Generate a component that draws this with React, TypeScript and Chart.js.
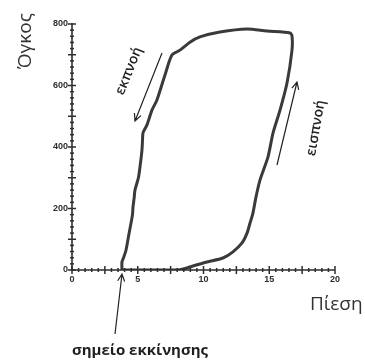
import React, { useEffect, useRef } from "react";
import { Chart, registerables } from "chart.js";

Chart.register(...registerables);

// Pressure–volume loop, in drawing order from the starting point
const pressure = [
  3.8, 8.06, 9.2, 10.27, 11.48, 12.24, 12.93, 13.31, 13.54, 13.76, 13.99, 14.3,
  14.9, 15.29, 15.82, 16.35, 16.73, 16.73, 16.58, 14.83, 13.31, 11.25, 9.73,
  8.97, 8.21, 7.6, 7.07, 6.46, 6.08, 5.7, 5.4, 5.36, 5.32, 5.17, 5.05, 4.79,
  4.72, 4.64, 4.6, 4.49, 4.3, 4.11, 3.92, 3.8, 3.8,
];
const volume = [
  0, 0, 13, 26, 39, 59, 88, 120, 153, 185, 237, 293, 367, 446, 520, 608, 715,
  761, 771, 777, 784, 774, 758, 741, 715, 699, 634, 553, 520, 472, 446, 420,
  390, 335, 300, 260, 232, 205, 180, 153, 110, 65, 40, 26, 0,
];

const xLabels = [0, 5, 10, 15, 20];
const yLabels = [0, 200, 400, 600, 800];

const ink = "#2e2e2e";

function arrow(
  ctx: CanvasRenderingContext2D,
  x1: number,
  y1: number,
  x2: number,
  y2: number
) {
  const a = Math.atan2(y2 - y1, x2 - x1);
  const h = 8;
  ctx.beginPath();
  ctx.moveTo(x1, y1);
  ctx.lineTo(x2, y2);
  ctx.moveTo(x2 - h * Math.cos(a - 0.45), y2 - h * Math.sin(a - 0.45));
  ctx.lineTo(x2, y2);
  ctx.lineTo(x2 - h * Math.cos(a + 0.45), y2 - h * Math.sin(a + 0.45));
  ctx.stroke();
}

function rotatedText(
  ctx: CanvasRenderingContext2D,
  text: string,
  x: number,
  y: number,
  angleDeg: number,
  font: string
) {
  ctx.save();
  ctx.translate(x, y);
  ctx.rotate((angleDeg * Math.PI) / 180);
  ctx.font = font;
  ctx.textAlign = "center";
  ctx.textBaseline = "middle";
  ctx.fillText(text, 0, 0);
  ctx.restore();
}

const axesPlugin = {
  id: "handAxes",
  afterDatasetsDraw(chart: any) {
    const { ctx, scales } = chart;
    const xs = scales.x;
    const ys = scales.y;
    const x0 = xs.getPixelForValue(0);
    const x20 = xs.getPixelForValue(20);
    const y0 = ys.getPixelForValue(0);
    const y800 = ys.getPixelForValue(800);

    ctx.save();
    ctx.strokeStyle = ink;
    ctx.fillStyle = ink;
    ctx.lineWidth = 1.6;

    // axis lines
    ctx.beginPath();
    ctx.moveTo(x0, y800 - 1);
    ctx.lineTo(x0, y0);
    ctx.lineTo(x20, y0);
    ctx.stroke();

    // y ticks: major every 100, minor every 20
    ctx.lineWidth = 1.5;
    for (let v = 0; v <= 800; v += 20) {
      const p = ys.getPixelForValue(v);
      const major = v % 100 === 0;
      ctx.beginPath();
      ctx.moveTo(x0 - (major ? 4 : 2), p);
      ctx.lineTo(x0 + (major ? 4 : 2), p);
      ctx.stroke();
    }
    // x ticks: major every 2.5, minor every 0.5
    for (let i = 0; i <= 40; i++) {
      const v = i * 0.5;
      const p = xs.getPixelForValue(v);
      const major = i % 5 === 0;
      ctx.beginPath();
      ctx.moveTo(p, y0 - (major ? 4 : 2));
      ctx.lineTo(p, y0 + (major ? 4 : 2));
      ctx.stroke();
    }

    // tick labels
    ctx.font = "bold 9px 'Liberation Sans'";
    ctx.textAlign = "right";
    ctx.textBaseline = "middle";
    yLabels.forEach((v) => ctx.fillText(String(v), x0 - 4, ys.getPixelForValue(v)));
    ctx.textAlign = "center";
    ctx.textBaseline = "top";
    xLabels.forEach((v) => ctx.fillText(String(v), xs.getPixelForValue(v), y0 + 5));

    // axis titles
    ctx.fillStyle = "#333";
    ctx.font = "19px 'Open Sans'";
    ctx.textAlign = "left";
    ctx.textBaseline = "alphabetic";
    ctx.fillText("Πίεση", 310, 310);
    ctx.save();
    ctx.translate(31, 69);
    ctx.rotate(-Math.PI / 2);
    ctx.fillText("Όγκος", 0, 0);
    ctx.restore();

    // start point label and pointer
    ctx.fillStyle = "#1e1e1e";
    ctx.font = "bold 15px 'Open Sans'";
    ctx.textAlign = "center";
    ctx.fillText("σημείο εκκίνησης", 140, 355);
    ctx.strokeStyle = "#222";
    ctx.lineWidth = 1.2;
    arrow(ctx, 115, 334, 122, 274);

    // direction annotations
    ctx.fillStyle = "#222";
    rotatedText(ctx, "εκπνοή", 129, 71, -68, "600 14px 'Open Sans'");
    rotatedText(ctx, "εισπνοή", 316, 128, -80, "600 14px 'Open Sans'");
    arrow(ctx, 162, 53, 135, 121);
    arrow(ctx, 277, 165, 297, 82);

    ctx.restore();
  },
};

export default function App() {
  const canvasRef = useRef<HTMLCanvasElement | null>(null);

  useEffect(() => {
    if (!canvasRef.current) return;
    const points = pressure.map((p, i) => ({ x: p, y: volume[i] }));
    const chart = new Chart(canvasRef.current, {
      type: "scatter",
      data: {
        datasets: [
          {
            data: points,
            showLine: true,
            borderColor: "#3a3a3a",
            borderWidth: 3,
            pointRadius: 0,
            tension: 0.25,
            fill: false,
          },
        ],
      },
      options: {
        responsive: false,
        animation: false,
        events: [],
        layout: { padding: { left: 72, right: 30, top: 24, bottom: 93 } },
        plugins: {
          legend: { display: false },
          tooltip: { enabled: false },
        },
        scales: {
          x: { type: "linear", min: 0, max: 20, display: false },
          y: { type: "linear", min: 0, max: 800, display: false },
        },
      },
      plugins: [axesPlugin],
    });
    return () => chart.destroy();
  }, []);

  return (
    <div
      style={{
        position: "fixed",
        left: 0,
        top: 0,
        width: 365,
        height: 363,
        background: "#fff",
      }}
    >
      <canvas ref={canvasRef} width={365} height={363} />
    </div>
  );
}
